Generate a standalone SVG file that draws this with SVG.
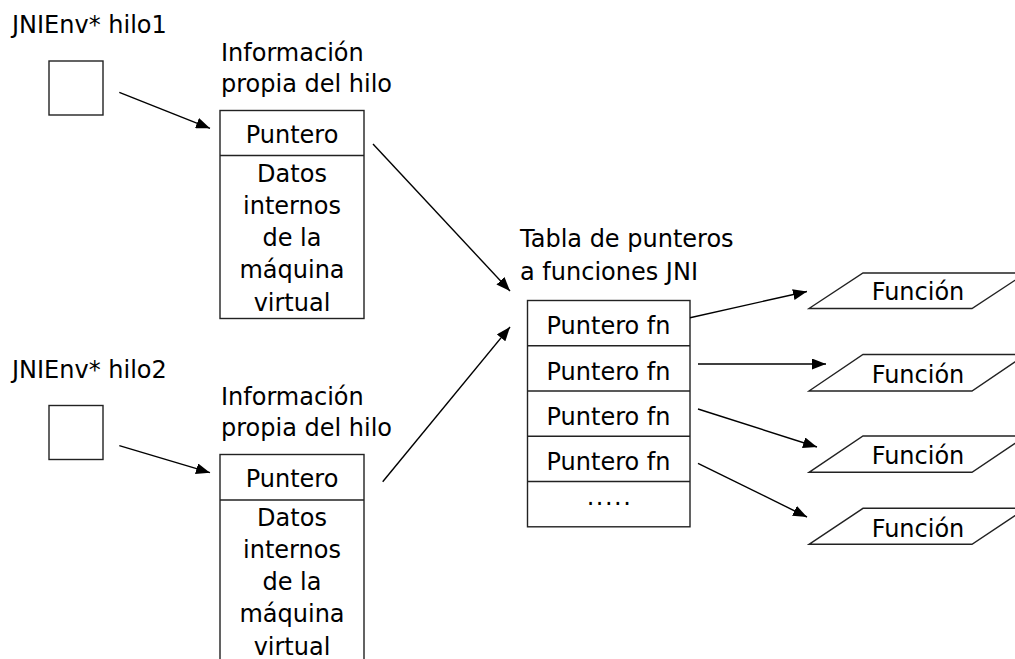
<svg xmlns="http://www.w3.org/2000/svg" width="1015" height="659" viewBox="0 0 1015 659">
<style>
text{font-family:Verdana,"DejaVu Sans",sans-serif;font-size:24px;fill:#000}
.c{text-anchor:middle}
.box{fill:#fff;stroke:#222;stroke-width:1.4}
.ln{stroke:#222;stroke-width:1.4;fill:none}
.ar{stroke:#000;stroke-width:1.4;fill:none;marker-end:url(#ah)}
</style>
<defs>
<marker id="ah" markerUnits="userSpaceOnUse" markerWidth="14" markerHeight="11" refX="14" refY="5.5" orient="auto">
<path d="M0,0 L14,5.5 L0,11 z" fill="#000"/>
</marker>
</defs>
<rect width="1015" height="659" fill="#fff"/>

<g id="hilo1">
<text x="12" y="33">JNIEnv* hilo1</text>
<rect class="box" x="49" y="61" width="54" height="54"/>
</g>
<g id="info1">
<text x="221" y="61">Información</text>
<text x="221" y="92">propia del hilo</text>
<rect class="box" x="220" y="110.5" width="144" height="208"/>
<line class="ln" x1="220" y1="155.5" x2="364" y2="155.5"/>
<text class="c" x="292" y="142.7">Puntero</text>
<text class="c" x="292" y="181.5">Datos</text>
<text class="c" x="292" y="213.8">internos</text>
<text class="c" x="292" y="246.1">de la</text>
<text class="c" x="292" y="278.4">máquina</text>
<text class="c" x="292" y="310.7">virtual</text>
</g>

<g id="hilo2">
<text x="12" y="377.5">JNIEnv* hilo2</text>
<rect class="box" x="49" y="405.5" width="54" height="54"/>
</g>
<g id="info2">
<text x="221" y="405">Información</text>
<text x="221" y="436">propia del hilo</text>
<rect class="box" x="220" y="454.5" width="144" height="220"/>
<line class="ln" x1="220" y1="500" x2="364" y2="500"/>
<text class="c" x="292" y="486.7">Puntero</text>
<text class="c" x="292" y="525.5">Datos</text>
<text class="c" x="292" y="557.8">internos</text>
<text class="c" x="292" y="590.1">de la</text>
<text class="c" x="292" y="622.4">máquina</text>
<text class="c" x="292" y="654.7">virtual</text>
</g>

<g id="tabla">
<text x="520" y="246.7">Tabla de punteros</text>
<text x="520" y="280">a funciones JNI</text>
<rect class="box" x="527.5" y="300.5" width="162.5" height="226.3"/>
<line class="ln" x1="527.5" y1="345.8" x2="690" y2="345.8"/>
<line class="ln" x1="527.5" y1="391" x2="690" y2="391"/>
<line class="ln" x1="527.5" y1="436.3" x2="690" y2="436.3"/>
<line class="ln" x1="527.5" y1="481.5" x2="690" y2="481.5"/>
<text class="c" x="608.5" y="334.3">Puntero fn</text>
<text class="c" x="608.5" y="379.5">Puntero fn</text>
<text class="c" x="608.5" y="424.8">Puntero fn</text>
<text class="c" x="608.5" y="470">Puntero fn</text>
<text class="c" x="609.5" y="505" letter-spacing="1.5">.....</text>
</g>

<g id="funcion1">
<polygon class="box" points="809,308.5 863,273 1026,273 972,308.5"/>
<text class="c" x="918" y="300">Función</text>
</g>
<g id="funcion2">
<polygon class="box" points="809,391 863,354.5 1026,354.5 972,391"/>
<text class="c" x="918" y="383.3">Función</text>
</g>
<g id="funcion3">
<polygon class="box" points="809,472.3 863,436 1026,436 972,472.3"/>
<text class="c" x="918" y="464.3">Función</text>
</g>
<g id="funcion4">
<polygon class="box" points="809,544.3 863,508.3 1026,508.3 972,544.3"/>
<text class="c" x="918" y="536.7">Función</text>
</g>

<g id="connectors">
<line class="ar" x1="119.3" y1="92.3" x2="210" y2="128.3"/>
<line class="ar" x1="119.3" y1="445.7" x2="210" y2="472.7"/>
<line class="ar" x1="373" y1="144" x2="510" y2="291"/>
<line class="ar" x1="382.7" y1="481.7" x2="510" y2="327"/>
<line class="ar" x1="690" y1="317.7" x2="807" y2="291.5"/>
<line class="ar" x1="698" y1="364" x2="826" y2="364"/>
<line class="ar" x1="698" y1="409" x2="817" y2="447"/>
<line class="ar" x1="698" y1="463.3" x2="807" y2="517"/>
</g>
</svg>
